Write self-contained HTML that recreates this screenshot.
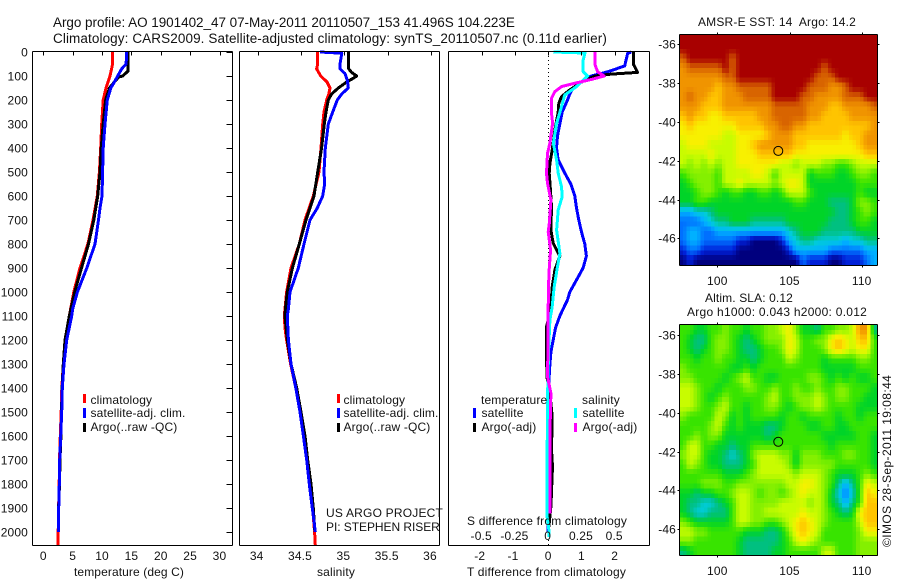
<!DOCTYPE html>
<html lang="en">
<head>
<meta charset="utf-8">
<title>Argo profile chart</title>
<style>
html,body{margin:0;padding:0;background:#fff;}
body{width:900px;height:580px;overflow:hidden;}
svg{display:block;font-family:"Liberation Sans",Arial,sans-serif;font-size:12px;letter-spacing:0.15px;fill:#000;}
svg text{fill:#111;white-space:pre;}
</style>
</head>
<body>
<svg id="chart" xmlns="http://www.w3.org/2000/svg" width="900" height="580" viewBox="0 0 900 580">
<rect x="0" y="0" width="900" height="580" fill="#fff"/>
<text x="53" y="27" font-size="13.5" textLength="462">Argo profile: AO 1901402_47 07-May-2011 20110507_153 41.496S 104.223E</text>
<text x="53" y="43" font-size="13.5" textLength="554">Climatology: CARS2009. Satellite-adjusted climatology: synTS_20110507.nc (0.11d earlier)</text>
<g id="heatmaps"></g>
<g id="panels"></g>
<g>
<rect x="83" y="394" width="3" height="9" fill="#ff0000"/>
<rect x="83" y="408" width="3" height="10" fill="#0000ff"/>
<rect x="83" y="423" width="3" height="9" fill="#000"/>
<text x="90.5" y="404">climatology</text>
<text x="90.5" y="417">satellite-adj. clim.</text>
<text x="90.5" y="431">Argo(..raw -QC)</text>
</g>
<g>
<rect x="337" y="394" width="3" height="9" fill="#ff0000"/>
<rect x="337" y="408" width="3" height="10" fill="#0000ff"/>
<rect x="337" y="423" width="3" height="9" fill="#000"/>
<text x="343.5" y="404">climatology</text>
<text x="343.5" y="417">satellite-adj. clim.</text>
<text x="343.5" y="431">Argo(..raw -QC)</text>
<text x="326" y="517" textLength="117">US ARGO PROJECT</text>
<text x="326" y="531" textLength="114">PI: STEPHEN RISER</text>
</g>
<g>
<text x="481" y="404">temperature</text>
<text x="582" y="404">salinity</text>
<rect x="473" y="408" width="3" height="10" fill="#0000ff"/>
<rect x="473" y="423" width="3" height="9" fill="#000"/>
<rect x="574" y="408" width="3" height="10" fill="#00ffff"/>
<rect x="574" y="423" width="3" height="9" fill="#ff00ff"/>
<text x="481.5" y="417">satellite</text>
<text x="481.5" y="431">Argo(-adj)</text>
<text x="582.5" y="417">satellite</text>
<text x="582.5" y="431">Argo(-adj)</text>
<text x="467" y="525" textLength="160">S difference from climatology</text>
</g>
<text x="74" y="576" textLength="110">temperature (deg C)</text>
<text x="317" y="576" textLength="38">salinity</text>
<text x="467" y="576" textLength="159">T difference from climatology</text>
<text x="698" y="26" textLength="158">AMSR-E SST: 14  Argo: 14.2</text>
<text x="705" y="302" textLength="88">Altim. SLA: 0.12</text>
<text x="687" y="316" textLength="180">Argo h1000: 0.043 h2000: 0.012</text>
<text transform="translate(891,547) rotate(-90)" textLength="172">©IMOS 28-Sep-2011 19:08:44</text>
</svg>
<script>
// ---------- tick labels ----------
const depthTicks = [0,100,200,300,400,500,600,700,800,900,1000,1100,1200,1300,1400,1500,1600,1700,1800,1900,2000];
const temperatureTicks = [0,5,10,15,20,25,30];
const salinityTicks = [34,34.5,35,35.5,36];
const salinityTickLabels = ['34','34.5','35','35.5','36'];
const tDiffTicks = [-2,-1,0,1,2];
const sDiffTicks = [-0.5,-0.25,0,0.25,0.5];
const sDiffTickLabels = ['-0.5','-0.25','0','0.25','0.5'];
const lonTicks = [100,105,110];
const latTicks = [36,38,40,42,44,46];

// ---------- temperature panel (deg C) ----------
const tClimDepth = [0,50,100,150,200,300,400,500,600,700,800,900,1000,1100,1200,1300,1400,1500,1600,1700,1800,1900,2000,2055];
const tClimValue = [11.8,11.8,11.36,10.68,10.2,9.95,9.77,9.55,9.2,8.46,7.6,6.25,5.2,4.43,3.75,3.4,3.15,3.05,2.9,2.75,2.7,2.6,2.53,2.5];
const tSatDepth = [0,50,70,100,125,150,200,300,400,500,600,650,700,800,900,1000,1070,1100,1200,1300,1400,1500,1600,1700,1800,1900,2000];
const tSatValue = [14.2,14.1,13.35,12.67,12.1,11.5,10.9,10.5,10.2,10.1,10,9.66,9.4,8.8,7.4,5.8,5.0,4.83,3.98,3.52,3.24,3.13,2.96,2.79,2.73,2.62,2.56];
const tArgoDepth = [0,80,100,105,125,150,200,300,400,500,600,700,800,900,1000,1100,1200,1300,1400,1500,1600,1700,1800,1900,2000];
const tArgoValue = [14.4,14.4,13.5,12.8,12.1,11.25,10.6,10.2,9.85,9.66,9.26,8.6,7.7,6.5,5.35,4.43,3.7,3.4,3.2,3.1,3.0,2.85,2.75,2.6,2.55];

// ---------- salinity panel ----------
const sClimDepth = [0,50,70,100,125,150,175,200,250,300,400,500,600,700,800,900,1000,1070,1100,1150,1200,1300,1400,1500,1600,1700,1800,1900,2000,2055];
const sClimValue = [34.692,34.692,34.68,34.727,34.80,34.834,34.82,34.796,34.765,34.75,34.73,34.707,34.642,34.546,34.48,34.384,34.334,34.315,34.307,34.315,34.334,34.38,34.44,34.488,34.534,34.565,34.604,34.634,34.657,34.665];
const sSatDepth = [0,5,50,70,90,120,150,175,200,250,300,400,500,550,600,650,700,800,900,1000,1070,1100,1200,1300,1400,1500,1600,1700,1800,1900,2000];
const sSatValue = [34.72,34.97,34.95,34.95,35.007,35.035,35.046,34.969,34.919,34.865,34.815,34.78,34.765,34.773,34.75,34.688,34.604,34.534,34.469,34.373,34.354,34.342,34.354,34.384,34.44,34.488,34.527,34.565,34.596,34.63,34.665];
const sArgoDepth = [0,70,85,100,110,125,150,175,200,250,300,400,500,600,700,800,900,1000,1070,1100,1200,1300,1400,1500,1600,1700,1800,1900,2000];
const sArgoValue = [35.05,35.05,35.084,35.142,35.10,35.027,34.93,34.853,34.815,34.788,34.769,34.738,34.692,34.65,34.557,34.48,34.40,34.342,34.32,34.315,34.342,34.384,34.45,34.50,34.546,34.577,34.615,34.642,34.66];

// ---------- difference panel ----------
const dtSatDepth = [0,5,58,82,100,125,150,175,200,250,300,350,400,450,500,550,600,650,700,750,800,850,900,950,1000,1033,1050,1100,1150,1200,1250,1300,1400,1700,2000];
const dtSatValue = [2.5,2.39,2.3,1.8,1.3,1.0,0.75,0.65,0.58,0.42,0.35,0.28,0.25,0.3,0.48,0.68,0.8,0.85,0.92,1.0,1.1,1.15,1.05,0.85,0.65,0.58,0.52,0.35,0.22,0.15,0.08,0.05,0.01,0,0];
const dtArgoDepth = [0,50,85,92,100,125,158,186,214,250,325,408,464,505,561,644,742,797,850,908,978,1061,1116,1144,1241,1353,1422,1519,1658,1728,1894,1978];
const dtArgoValue = [2.56,2.56,2.69,1.9,1.4,1.0,0.65,0.4,0.32,0.3,0.2,0.12,0.05,0.03,0.06,0.1,0.08,0.15,0.35,0.2,0.12,0.08,0,-0.05,-0.05,-0.04,0.05,0.12,0.1,0.13,0.08,0.02];
const dsSatDepth = [0,4,33,82,100,124,144,179,228,297,380,450,505,561,603,658,742,839,894,978,1061,1117,1214,1311,1450,1728,1936,1992,2020];
const dsSatValue = [0.038,0.276,0.263,0.263,0.296,0.25,0.213,0.125,0.1,0.063,0.038,0.063,0.075,0.1,0.105,0.075,0.063,0.088,0.07,0.045,0.03,0.013,0.005,0,-0.005,-0.008,-0.008,0.005,0.005];
const dsArgoDepth = [0,50,82,100,114,130,144,165,193,255,297,380,422,505,547,617,714,749,825,922,1061,1172,1353,1422,1589,1922];
const dsArgoValue = [0.351,0.351,0.371,0.421,0.326,0.2,0.1,0.05,0.025,0.025,0.033,0.013,-0.005,-0.013,-0.005,0.02,0.008,0,0.018,0.005,0,0,-0.005,0.02,0.013,0.013];

// ---------- SST map colour levels (rows north to south) ----------
const sstLevels = [
[14,14,14,14,14,14,14,14,14,14,14,14,14,14,14,14,14,14,14,14,14,14,14,14,14,14,14,14],
[14,14,14,14,14,14,14,14,14,14,14,14,14,14,14,14,14,14,14,14,14,14,14,14,14,14,14,14],
[13,14,14,14,14,14,14,13,14,14,14,14,14,14,14,14,14,14,14,14,14,14,14,14,14,14,14,14],
[12,13,13,13,13,13,14,13,14,14,14,14,14,14,14,14,14,14,14,14,13,14,14,14,14,14,14,14],
[12,12,12,12,12,12,13,13,14,14,14,14,14,14,14,14,14,14,14,13,13,13,14,14,14,14,14,14],
[12,12,12,12,12,11,12,12,13,13,13,13,13,14,14,14,14,14,13,13,13,12,12,13,14,14,14,14],
[12,13,12,12,11,11,12,12,12,13,13,13,13,14,14,14,14,13,13,12,12,12,12,13,13,13,14,14],
[12,12,12,11,11,11,12,12,12,12,12,12,12,13,13,13,13,13,12,12,12,11,11,12,12,12,12,13],
[11,12,11,11,10,10,11,11,11,11,11,12,12,13,13,13,13,13,12,12,11,11,11,11,12,12,12,12],
[10,11,10,10,10,10,10,10,11,11,11,11,12,12,13,13,12,12,11,11,11,11,11,11,11,11,11,12],
[10,10,10,10,10,10,9,9,10,10,10,10,11,12,12,12,11,11,11,11,11,11,11,10,11,11,12,12],
[9,10,10,10,9,9,9,9,10,10,11,12,12,12,12,12,11,11,10,10,10,10,10,10,10,11,12,12],
[9,9,9,9,10,9,9,9,10,10,10,11,11,11,11,11,10,10,10,10,10,10,10,10,10,10,11,11],
[9,8,9,8,9,8,9,9,10,10,10,10,10,10,9,9,8,9,9,9,8,8,7,7,8,9,9,9],
[7,8,8,8,8,7,9,9,9,9,10,10,9,7,9,9,9,9,6,7,7,7,6,6,7,8,8,7],
[6,7,8,8,8,7,9,9,10,9,9,9,9,8,9,10,10,9,6,6,6,6,6,6,6,7,7,7],
[6,6,7,8,8,7,6,7,7,6,6,7,7,6,7,9,9,9,7,6,6,6,6,6,6,7,6,6],
[6,6,7,7,6,6,6,6,6,6,6,6,6,6,6,6,7,7,6,6,6,5,5,5,6,8,8,7],
[3,3,4,4,5,6,6,6,6,6,6,6,6,6,6,6,6,6,6,6,6,6,5,5,6,7,8,7],
[2,2,2,3,4,5,5,6,6,6,5,5,5,5,5,6,6,6,6,6,6,5,5,5,6,7,7,6],
[2,3,3,2,2,3,3,3,3,3,3,3,3,3,3,4,5,6,6,6,5,5,5,5,5,6,6,6],
[2,3,3,2,2,2,2,2,1,1,0,0,0,0,1,3,4,5,5,4,4,4,4,3,4,4,5,5],
[1,2,2,1,1,1,1,1,0,0,0,0,0,0,0,1,3,3,3,3,3,2,2,2,2,2,3,3],
[0,1,0,0,0,0,0,0,0,0,0,0,0,0,0,0,0,2,1,1,1,0,0,1,1,1,2,3]
];

// ---------- SLA map colour levels (rows north to south) ----------
const slaLevels = [
[7,7,6,6,7,7,8,7,7,6,7,7,8,8,9,10,8,6,6,5,7,7,8,8,9,12,12,5],
[7,6,5,5,7,8,8,7,6,5,6,7,8,8,8,10,9,7,7,8,8,10,11,10,9,11,11,7],
[7,6,5,6,7,8,8,7,6,5,5,6,7,7,8,10,9,7,7,7,8,10,11,10,9,10,10,7],
[7,7,6,7,7,8,7,7,6,6,5,6,7,7,7,9,8,7,7,7,6,7,7,7,7,8,8,7],
[8,7,7,7,7,7,7,6,6,7,6,7,7,7,7,7,7,7,7,7,6,6,6,6,6,7,7,7],
[8,8,7,7,7,7,6,7,8,9,7,7,6,6,7,7,7,7,8,8,7,6,7,6,7,6,6,7],
[9,9,8,7,7,6,7,7,7,8,8,7,7,8,7,7,8,7,7,8,7,7,8,8,7,7,7,6],
[9,9,8,7,6,7,8,7,7,7,7,7,8,9,7,7,8,8,8,9,8,7,8,8,7,7,6,6],
[9,9,8,7,7,8,9,7,7,6,7,7,8,8,7,6,7,8,8,9,8,7,7,7,7,6,6,6],
[8,7,7,7,7,9,8,6,7,6,7,7,7,7,6,7,7,6,7,7,7,7,6,7,7,6,7,7],
[7,7,7,7,8,9,7,6,7,6,6,6,5,5,6,7,7,7,6,6,7,7,6,6,7,7,7,7],
[7,7,8,7,8,8,6,6,6,6,6,6,5,6,7,7,7,7,7,7,6,6,6,6,6,7,7,6],
[7,9,9,7,7,6,6,5,6,6,7,7,7,7,7,7,7,7,7,7,7,6,7,7,7,7,7,6],
[8,9,9,7,6,6,5,4,5,6,8,9,9,9,8,8,6,8,8,8,7,7,7,8,8,7,7,6],
[7,9,8,7,6,6,5,5,5,6,7,9,9,9,9,8,6,8,8,8,8,8,7,7,7,7,7,6],
[7,7,7,7,7,7,6,6,6,7,8,9,9,9,9,9,8,9,9,9,8,7,6,6,6,7,8,7],
[7,7,7,8,8,8,7,7,8,8,8,8,8,8,8,9,9,10,10,9,8,7,5,3,5,7,10,9],
[6,6,5,6,6,7,7,8,9,9,8,7,8,8,7,8,9,10,9,9,8,6,4,2,4,7,11,10],
[6,5,5,4,4,5,6,7,9,9,8,8,8,8,9,9,9,9,8,9,8,6,5,3,5,7,11,11],
[6,5,4,4,5,5,5,7,9,9,8,8,9,9,9,9,9,10,9,9,8,7,6,5,6,10,11,11],
[8,7,6,6,6,6,6,7,9,9,8,8,7,7,8,9,10,11,10,9,8,7,7,7,7,9,11,11],
[9,9,8,8,7,7,7,7,7,6,6,6,5,5,6,8,10,11,10,9,7,7,7,7,7,8,10,10],
[8,8,7,7,7,7,7,7,6,5,5,5,5,5,6,7,9,10,9,8,7,7,7,7,7,8,8,8],
[5,6,7,7,7,7,7,7,6,5,5,5,5,6,6,7,7,7,7,7,9,9,7,7,7,8,8,8]
];

// colour ramp, one entry per integer level
const levelColors = [[0,0,126],[0,32,216],[0,112,255],[0,176,255],[0,204,216],[0,192,128],[0,212,40],[56,228,0],[132,240,0],[200,252,0],[248,240,0],[255,196,0],[240,148,0],[216,100,0],[168,0,0]];
// float location
const floatLon = 104.223;
const floatLat = 41.496;

const SVGNS = 'http://www.w3.org/2000/svg';
const panelsGroup = document.getElementById('panels');
const mapsGroup = document.getElementById('heatmaps');

function linear(d0, d1, r0, r1) {
  return function (v) { return r0 + (v - d0) * (r1 - r0) / (d1 - d0); };
}
function make(tag, attrs, parent) {
  const el = document.createElementNS(SVGNS, tag);
  Object.keys(attrs).forEach(function (k) { el.setAttribute(k, attrs[k]); });
  parent.appendChild(el);
  return el;
}
function axisLine(x1, y1, x2, y2, parent, name) {
  const el = make('line', {x1: x1, y1: y1, x2: x2, y2: y2, stroke: '#000', 'stroke-width': 1, 'shape-rendering': 'crispEdges'}, parent);
  
  
  return el;
}
function label(x, y, text, anchor, parent, name) {
  const el = make('text', {x: x, y: y, 'text-anchor': anchor}, parent);
  el.textContent = text;
  
  
  return el;
}
function series(depths, values, xScale, yScale, color, parent, name) {
  const pts = depths.map(function (d, i) { return xScale(values[i]).toFixed(1) + ',' + yScale(d).toFixed(1); }).join(' ');
  const el = make('polyline', {points: pts, fill: 'none', stroke: color, 'stroke-width': 3, 'stroke-linejoin': 'round', 'shape-rendering': 'crispEdges'}, parent);
  
  
  return el;
}
function panelFrame(left, right, top, bottom, parent) {
  axisLine(left, top, right, top, parent, 'panel-top-edge');
  axisLine(left, bottom, right, bottom, parent, 'panel-x-axis');
  axisLine(left, top, left, bottom, parent, 'panel-left-edge');
  axisLine(right, top, right, bottom, parent, 'panel-right-edge');
}

// ---------- shared depth axis ----------
const yDepth = linear(0, 2000, 52, 532);
const PANEL_TOP = 51.5;
const PANEL_BOTTOM = 545.5;

// ---------- temperature panel ----------
const xTemp = linear(0, 30, 43.3, 219.5);
const tempPanel = make('g', {}, panelsGroup);


series(tClimDepth, tClimValue, xTemp, yDepth, '#ff0000', tempPanel, 'temperature-climatology-line');
series(tArgoDepth, tArgoValue, xTemp, yDepth, '#000000', tempPanel, 'temperature-argo-line');
series(tSatDepth, tSatValue, xTemp, yDepth, '#0000ff', tempPanel, 'temperature-satellite-line');
panelFrame(32.5, 232.5, PANEL_TOP, PANEL_BOTTOM, tempPanel);
depthTicks.forEach(function (d) {
  const y = Math.round(yDepth(d)) + 0.5;
  axisLine(226.5, y, 232.5, y, tempPanel, 'depth-tick');
  label(28, y + 4, String(d), 'end', tempPanel, 'depth-tick-label');
});
temperatureTicks.forEach(function (v) {
  const x = Math.round(xTemp(v)) + 0.5;
  axisLine(x, PANEL_TOP, x, PANEL_TOP + 4, tempPanel, 'temperature-tick');
  label(xTemp(v), 560, String(v), 'middle', tempPanel, 'temperature-tick-label');
});

// ---------- salinity panel ----------
const xSal = linear(34, 36, 257.7, 431);
const salPanel = make('g', {}, panelsGroup);


series(sClimDepth, sClimValue, xSal, yDepth, '#ff0000', salPanel, 'salinity-climatology-line');
series(sArgoDepth, sArgoValue, xSal, yDepth, '#000000', salPanel, 'salinity-argo-line');
series(sSatDepth, sSatValue, xSal, yDepth, '#0000ff', salPanel, 'salinity-satellite-line');
panelFrame(239.5, 439.5, PANEL_TOP, PANEL_BOTTOM, salPanel);
salinityTicks.forEach(function (v, i) {
  const x = Math.round(xSal(v)) + 0.5;
  axisLine(x, PANEL_TOP, x, PANEL_TOP + 4, salPanel, 'salinity-tick');
  label(xSal(v) - 1, 560, salinityTickLabels[i], 'middle', salPanel, 'salinity-tick-label');
});

// ---------- difference panel ----------
const xDT = linear(-2, 2, 481.7, 614.7);
const xDS = linear(-0.5, 0.5, 481.7, 614.7);
const diffPanel = make('g', {}, panelsGroup);


const zeroLine = make('line', {x1: 548.5, y1: 52, x2: 548.5, y2: 545, stroke: '#000', 'stroke-width': 1, 'stroke-dasharray': '1 3', 'shape-rendering': 'crispEdges'}, diffPanel);


series(dtSatDepth, dtSatValue, xDT, yDepth, '#0000ff', diffPanel, 'delta-t-satellite-line');
series(dtArgoDepth, dtArgoValue, xDT, yDepth, '#000000', diffPanel, 'delta-t-argo-line');
series(dsSatDepth, dsSatValue, xDS, yDepth, '#00ffff', diffPanel, 'delta-s-satellite-line');
series(dsArgoDepth, dsArgoValue, xDS, yDepth, '#ff00ff', diffPanel, 'delta-s-argo-line');
panelFrame(448.5, 649.5, PANEL_TOP, PANEL_BOTTOM, diffPanel);
tDiffTicks.forEach(function (v) {
  const x = Math.round(xDT(v)) + 0.5;
  axisLine(x, PANEL_TOP, x, PANEL_TOP + 4, diffPanel, 't-difference-tick');
  label(xDT(v) - (v < 0 ? 2 : 0), 560, String(v), 'middle', diffPanel, 't-difference-tick-label');
});
sDiffTicks.forEach(function (v, i) {
  label(xDS(v) - 0.5, 540, sDiffTickLabels[i], 'middle', diffPanel, 's-difference-tick-label');
});

// ---------- maps ----------
const xLon = linear(100, 110, 717.3, 861.7);
const MAP_LEFT = 679.5;
const MAP_RIGHT = 877.5;
const CELL_LON = 0.49;
const CELL_LAT = 0.4946;
const GRID_LON0 = 97.37;
const GRID_LAT0 = 35.49;
const SUBCELLS = 2;

function levelColor(v) {
  const t = Math.max(0, Math.min(levelColors.length - 1, v));
  const i = Math.min(levelColors.length - 2, Math.floor(t));
  const f = t - i;
  const a = levelColors[i];
  const b = levelColors[i + 1];
  return 'rgb(' + Math.round(a[0] + (b[0] - a[0]) * f) + ',' + Math.round(a[1] + (b[1] - a[1]) * f) + ',' + Math.round(a[2] + (b[2] - a[2]) * f) + ')';
}
function sampleLevels(levels, rowF, colF) {
  const nr = levels.length - 1;
  const nc = levels[0].length - 1;
  const r = Math.max(0, Math.min(nr, rowF));
  const c = Math.max(0, Math.min(nc, colF));
  const r0 = Math.floor(r);
  const c0 = Math.floor(c);
  const r1 = Math.min(nr, r0 + 1);
  const c1 = Math.min(nc, c0 + 1);
  const fr = r - r0;
  const fc = c - c0;
  return (levels[r0][c0] * (1 - fc) + levels[r0][c1] * fc) * (1 - fr) + (levels[r1][c0] * (1 - fc) + levels[r1][c1] * fc) * fr;
}
function drawMap(levels, yLat, top, bottom, name) {
  const g = make('g', {}, mapsGroup);
  
  
  const rows = levels.length * SUBCELLS;
  const cols = levels[0].length * SUBCELLS;
  for (let r = 0; r < rows; r++) {
    for (let c = 0; c < cols; c++) {
      const v = sampleLevels(levels, (r + 0.5) / SUBCELLS - 0.5, (c + 0.5) / SUBCELLS - 0.5);
      const x0 = xLon(GRID_LON0 + c * CELL_LON / SUBCELLS);
      const x1 = xLon(GRID_LON0 + (c + 1) * CELL_LON / SUBCELLS);
      const y0 = yLat(GRID_LAT0 + r * CELL_LAT / SUBCELLS);
      const y1 = yLat(GRID_LAT0 + (r + 1) * CELL_LAT / SUBCELLS);
      const cell = make('rect', {x: x0.toFixed(1), y: y0.toFixed(1), width: (x1 - x0 + 0.5).toFixed(1), height: (y1 - y0 + 0.5).toFixed(1), fill: levelColor(v), 'shape-rendering': 'crispEdges'}, g);
      
      
    }
  }
  panelFrame(MAP_LEFT, MAP_RIGHT, top, bottom, g);
  lonTicks.forEach(function (v) {
    const x = Math.round(xLon(v)) + 0.5;
    axisLine(x, top - 2, x, top, g, 'longitude-tick-top');
    axisLine(x, bottom, x, bottom + 2, g, 'longitude-tick-bottom');
    label(xLon(v), bottom + 19.5, String(v), 'middle', g, 'longitude-tick-label');
  });
  latTicks.forEach(function (v) {
    const y = Math.round(yLat(v)) + 0.5;
    axisLine(MAP_LEFT - 2, y, MAP_LEFT, y, g, 'latitude-tick-left');
    axisLine(MAP_RIGHT, y, MAP_RIGHT + 2, y, g, 'latitude-tick-right');
    label(676, y + 4, '-' + v, 'end', g, 'latitude-tick-label');
  });
  const marker = make('circle', {cx: xLon(floatLon), cy: yLat(floatLat), r: 4.5, fill: 'none', stroke: '#000', 'stroke-width': 1}, g);
  
  
}
drawMap(sstLevels, linear(36, 46, 44.3, 238.3), 34.5, 265.5, 'sst-map');
drawMap(slaLevels, linear(36, 46, 335, 529.3), 324.5, 555.5, 'sla-map');
</script>
</body>
</html>
